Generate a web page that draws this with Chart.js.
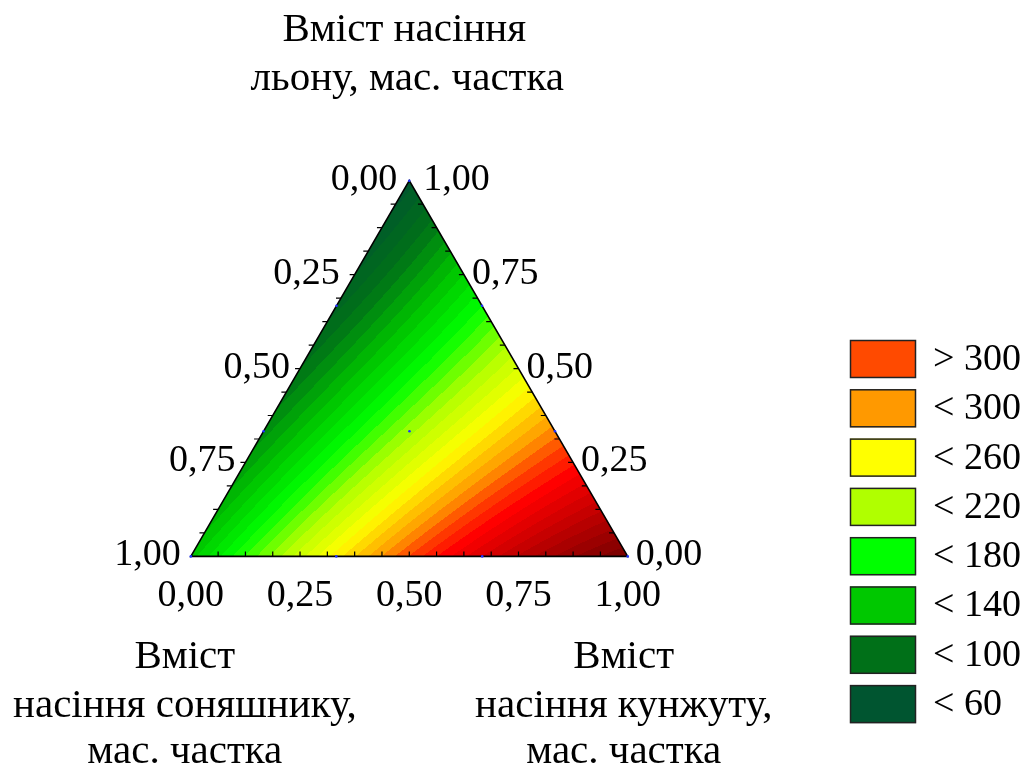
<!DOCTYPE html>
<html lang="uk">
<head>
<meta charset="utf-8">
<title>Вміст насіння — потрійна діаграма</title>
<script src="https://cdn.jsdelivr.net/npm/chart.js@4/dist/chart.umd.min.js"></script>
<style>
  html, body { margin: 0; padding: 0; background: #ffffff; }
  #wrap { width: 1030px; height: 764px; position: relative; }
  canvas { display: block; }
</style>
</head>
<body>
<div id="wrap"><canvas id="chart" width="1030" height="764"></canvas></div>
<script>
// Simplex-lattice {3,3} design: mass shares of flax, sunflower and sesame seed
const flaxShare      = [1, 0, 0, 0.667, 0.333, 0,     0,     0.333, 0.667, 0.333];
const sunflowerShare = [0, 1, 0, 0.333, 0.667, 0.667, 0.333, 0,     0,     0.333];
const sesameShare    = [0, 0, 1, 0,     0,     0.333, 0.667, 0.667, 0.333, 0.334];
// measured response at each design point
const responseValues = [45, 125, 420, 66, 95, 245, 350, 285, 160, 196];

// axis tick labels
const tickShares = [0, 0.25, 0.5, 0.75, 1];
const tickLabels = ['0,00', '0,25', '0,50', '0,75', '1,00'];

// legend classes
const legendLabels = ['> 300', '< 300', '< 260', '< 220', '< 180', '< 140', '< 100', '< 60'];
const legendColors = ['#ff4a00', '#ff9900', '#ffff00', '#b0ff00', '#00ff00', '#00c800', '#007018', '#005530'];

// axis titles
const titleFlax = ['Вміст насіння', 'льону, мас. частка'];
const titleSunflower = ['Вміст', 'насіння соняшнику,', 'мас. частка'];
const titleSesame = ['Вміст', 'насіння кунжуту,', 'мас. частка'];

const H = Math.sqrt(3) / 2;
const FONT = '"Liberation Serif", "Times New Roman", serif';

// ---- full cubic Scheffé model fitted to the design points ----
function basis(a, b, c) {
  return [a, b, c, a * b, a * c, b * c, a * b * (a - b), a * c * (a - c), b * c * (b - c), a * b * c];
}
function solve(M, v) {
  const n = v.length;
  const A = M.map((r, i) => r.concat([v[i]]));
  for (let k = 0; k < n; k++) {
    let p = k;
    for (let i = k + 1; i < n; i++) if (Math.abs(A[i][k]) > Math.abs(A[p][k])) p = i;
    [A[k], A[p]] = [A[p], A[k]];
    for (let i = k + 1; i < n; i++) {
      const f = A[i][k] / A[k][k];
      for (let j = k; j <= n; j++) A[i][j] -= f * A[k][j];
    }
  }
  const x = new Array(n).fill(0);
  for (let i = n - 1; i >= 0; i--) {
    let s = A[i][n];
    for (let j = i + 1; j < n; j++) s -= A[i][j] * x[j];
    x[i] = s / A[i][i];
  }
  return x;
}
const coef = solve(
  flaxShare.map((_, i) => basis(flaxShare[i], sunflowerShare[i], sesameShare[i])),
  responseValues
);
function model(a, b, c) {
  const f = basis(a, b, c);
  let s = 0;
  for (let i = 0; i < f.length; i++) s += coef[i] * f[i];
  return s;
}

// ---- colour scale with fine contour bands ----
const rampValues = [20, 40, 80, 120, 160, 200, 240, 280, 300, 325, 440];
const rampColors = ['#004535', '#005530', '#007018', '#00c000', '#00ff00', '#b0ff00',
                    '#ffff00', '#ff9900', '#ff4500', '#ff0000', '#5a0000'];
const rampRGB = rampColors.map(h => [1, 3, 5].map(i => parseInt(h.substr(i, 2), 16)));
const BAND = 10;
function bandColor(v) {
  const mid = (Math.floor(v / BAND) + 0.5) * BAND;
  if (mid <= rampValues[0]) return rampRGB[0];
  const last = rampValues.length - 1;
  if (mid >= rampValues[last]) return rampRGB[last];
  let k = 0;
  while (mid > rampValues[k + 1]) k++;
  const t = (mid - rampValues[k]) / (rampValues[k + 1] - rampValues[k]);
  return rampRGB[k].map((c, i) => Math.round(c + (rampRGB[k + 1][i] - c) * t));
}

// ternary (flax, sunflower, sesame) -> plane
function toPlane(fl, su, se) { return { x: se + fl / 2, y: fl * H }; }

const ternaryPlugin = {
  id: 'ternary',
  beforeDatasetsDraw(chart) {
    const ctx = chart.ctx;
    const xs = chart.scales.x, ys = chart.scales.y;
    const P = (fl, su, se) => {
      const q = toPlane(fl, su, se);
      return [xs.getPixelForValue(q.x), ys.getPixelForValue(q.y)];
    };
    const A = P(1, 0, 0), B = P(0, 1, 0), C = P(0, 0, 1);
    const x0 = Math.floor(Math.min(A[0], B[0], C[0])) - 1;
    const x1 = Math.ceil(Math.max(A[0], B[0], C[0])) + 1;
    const y0 = Math.floor(Math.min(A[1], B[1], C[1])) - 1;
    const y1 = Math.ceil(Math.max(A[1], B[1], C[1])) + 1;
    const w = x1 - x0, h = y1 - y0;
    const off = document.createElement('canvas');
    off.width = w; off.height = h;
    const octx = off.getContext('2d');
    const img = octx.createImageData(w, h);
    for (let py = 0; py < h; py++) {
      const yv = ys.getValueForPixel(y0 + py + 0.5);
      for (let px = 0; px < w; px++) {
        const xv = xs.getValueForPixel(x0 + px + 0.5);
        const fl = yv / H;
        const se = xv - fl / 2;
        const su = 1 - fl - se;
        if (fl < -0.002 || se < -0.002 || su < -0.002) continue;
        const col = bandColor(model(fl, su, se));
        const o = (py * w + px) * 4;
        img.data[o] = col[0]; img.data[o + 1] = col[1]; img.data[o + 2] = col[2]; img.data[o + 3] = 255;
      }
    }
    octx.putImageData(img, 0, 0);
    ctx.save();
    ctx.beginPath();
    ctx.moveTo(A[0], A[1]); ctx.lineTo(B[0], B[1]); ctx.lineTo(C[0], C[1]); ctx.closePath();
    ctx.clip();
    ctx.drawImage(off, x0, y0);
    ctx.restore();

    // triangle frame
    ctx.save();
    ctx.strokeStyle = '#000000';
    ctx.lineWidth = 1.6;
    ctx.lineJoin = 'miter';
    ctx.beginPath();
    ctx.moveTo(A[0], A[1]); ctx.lineTo(B[0], B[1]); ctx.lineTo(C[0], C[1]); ctx.closePath();
    ctx.stroke();

    // minor ticks every 1/16
    ctx.lineWidth = 1.2;
    ctx.beginPath();
    for (let i = 1; i < 16; i++) {
      const t = i / 16;
      const b = P(0, 1 - t, t);                 // sesame axis (bottom)
      ctx.moveTo(b[0], b[1]); ctx.lineTo(b[0], b[1] - 5);
      const l = P(1 - t, t, 0);                 // sunflower axis (left)
      ctx.moveTo(l[0], l[1]); ctx.lineTo(l[0] - 5, l[1]);
      const r = P(t, 0, 1 - t);                 // flax axis (right)
      ctx.moveTo(r[0], r[1]); ctx.lineTo(r[0] - 5, r[1]);
    }
    ctx.stroke();
    ctx.restore();
  },
  afterDraw(chart) {
    const ctx = chart.ctx;
    const xs = chart.scales.x, ys = chart.scales.y;
    const P = (fl, su, se) => {
      const q = toPlane(fl, su, se);
      return [xs.getPixelForValue(q.x), ys.getPixelForValue(q.y)];
    };
    ctx.save();
    ctx.fillStyle = '#000000';

    // tick labels
    ctx.font = '38px ' + FONT;
    const leftGap = [12, 15, 10, 10, 10];
    tickShares.forEach((t, i) => {
      // sesame (bottom)
      const b = P(0, 1 - t, t);
      ctx.textAlign = 'center'; ctx.textBaseline = 'alphabetic';
      ctx.fillText(tickLabels[i], b[0], b[1] + 50);
      // sunflower (left)
      const l = P(1 - t, t, 0);
      ctx.textAlign = 'right'; ctx.textBaseline = 'middle';
      ctx.fillText(tickLabels[i], l[0] - leftGap[i], l[1] - 1);
      // flax (right)
      const r = P(t, 0, 1 - t);
      ctx.textAlign = 'left'; ctx.textBaseline = 'middle';
      ctx.fillText(tickLabels[i], r[0] + (t === 1 ? 14 : 8), r[1] - 1);
    });

    // axis titles
    ctx.font = '41px ' + FONT;
    ctx.textAlign = 'center'; ctx.textBaseline = 'alphabetic';
    const apex = P(1, 0, 0);
    ctx.fillText(titleFlax[0], apex[0] - 5, 41);
    ctx.fillText(titleFlax[1], apex[0] - 2, 90);
    const bl = P(0, 1, 0), br = P(0, 0, 1);
    const lineY = [668, 717, 763];
    titleSunflower.forEach((s, i) => ctx.fillText(s, bl[0] - 6, lineY[i]));
    titleSesame.forEach((s, i) => ctx.fillText(s, br[0] - 4, lineY[i]));

    // legend
    const lx = 850, ly = 340, bw = 66, bh = 38, gap = 49.3;
    ctx.font = '38px ' + FONT;
    ctx.textAlign = 'left'; ctx.textBaseline = 'middle';
    legendLabels.forEach((lab, i) => {
      const y = ly + i * gap;
      ctx.fillStyle = legendColors[i];
      ctx.fillRect(lx, y, bw, bh);
      ctx.strokeStyle = '#222222';
      ctx.lineWidth = 1.5;
      ctx.strokeRect(lx + 0.5, y + 0.5, bw - 1, bh - 1);
      ctx.fillStyle = '#000000';
      ctx.fillText(lab, lx + 83, y + bh / 2 + 1);
    });
    ctx.restore();
  }
};

const designPoints = flaxShare.map((_, i) => toPlane(flaxShare[i], sunflowerShare[i], sesameShare[i]));

new Chart(document.getElementById('chart'), {
  type: 'scatter',
  data: {
    datasets: [{
      label: 'Дослідні точки',
      data: designPoints,
      pointRadius: 1.3,
      pointHoverRadius: 1.3,
      pointBackgroundColor: '#2233ff',
      pointBorderWidth: 0,
      showLine: false
    }]
  },
  options: {
    responsive: false,
    animation: false,
    events: [],
    layout: { padding: 0 },
    plugins: { legend: { display: false }, tooltip: { enabled: false } },
    scales: {
      x: { type: 'linear', display: false, min: -190 / 438, max: (1030 - 190) / 438 },
      y: { type: 'linear', display: false, min: 1.2795 - 764 * H / 377, max: 557 * H / 377 }
    }
  },
  plugins: [ternaryPlugin]
});
</script>
</body>
</html>
